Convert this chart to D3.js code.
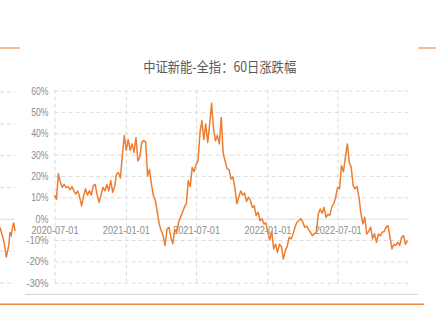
<!DOCTYPE html>
<html><head><meta charset="utf-8">
<script src="https://cdn.jsdelivr.net/npm/d3@7"></script>
<style>html,body{margin:0;padding:0;background:#fff;}svg{display:block;}</style>
</head><body>
<svg id="c" width="436" height="311"></svg>
<script>
// ---- data ----
const chartTitle = "中证新能-全指：60日涨跌幅";
const startDate = "2020-07-01";
const stepDays = 5;
const values = [
 11, 9, 21, 17, 14.7, 16, 14.5, 15, 13.5, 15,
 13, 11.5, 13, 10, 6, 10.5, 14, 11, 13, 11,
 15.4, 16, 11, 7.6, 11, 14.7, 13, 16, 13, 17.8,
 12.3, 15, 21, 21.5, 19, 30, 38.9, 32, 37, 32,
 35, 31, 38, 27, 29, 35.7, 36.5, 36, 20, 23,
 16, 10.8, 8.5, 3, -2.5, -5.6, -8, -12.6, -5, -4,
 -8.7, -11.8, -5, -6.5, -1.7, 0.6, 3, 5.5, 7, 17.8,
 15, 24, 22, 25.5, 27, 40, 45.9, 37, 44.3, 35.7,
 44, 54, 42, 36.5, 39, 35, 47.4, 30.3, 27, 23.3,
 23, 18.6, 19.5, 14.7, 7, 10, 13, 11, 12, 8,
 10, 8.5, 5.3, 6, 1.4, 3, -1, 0, -2.5, -2,
 -6.4, -10, -6, -14.2, -12, -15.8, -12, -13, -18.9, -15,
 -13, -8.7, -9.5, -7.2, -4, -1.7, -1, 0, -1.5, -4,
 -3.5, -5, -6.4, -8, -7, -6.5, 2, 4.5, 2.5, 5.3,
 0.6, 2, 1.5, 5.5, 6.9, 10, 14.7, 14, 24.8, 22,
 28.7, 35, 26.4, 24, 15.4, 14, 15, 10, 2.5, -2.5,
 0.6, -7.2, -6, -4, -9.5, -7, -11.1, -7.2, -8, -6.4,
 -6, -4, -3.3, -8.7, -14.2, -12, -12.5, -11, -12.6, -8.7,
 -8, -12, -10.3
];
const yTicks = [60, 50, 40, 30, 20, 10, 0, -10, -20, -30];
const xTickLabels = ["2020-07-01", "2021-01-01", "2021-07-01", "2022-01-01", "2022-07-01"];
const xDomain = ["2020-07-01", "2023-01-01"];
// fragment of a neighbouring chart visible at the left edge
const fragTicks = [40, 30, 20, 10, 0, -10, -20];
const fragValues = [-2.5, -4, -5.2, -6.8, -8.8, -12, -10, -8.3, -4, -5, -2.5, -1, -3.7];

// ---- layout ----
const svg = d3.select("#c");
const parse = d3.utcParse("%Y-%m-%d");
const L = 54.5, R = 409, T = 90.5, B = 282.7;
const lineColor = "#ED7D31";
const gridColor = "#dcdcdc";
const labelColor = "#8c8c8c";
const font = "'Liberation Sans', Arial, sans-serif";

const x = d3.scaleUtc().domain(xDomain.map(parse)).range([L, R]);
const y = d3.scaleLinear().domain([-30, 60]).range([B, T]);
const start = parse(startDate);
const data = values.map((v, i) => ({ d: d3.utcDay.offset(start, i * stepDays), v }));

// decorative slide lines
svg.append("line").attr("x1", 0).attr("x2", 20).attr("y1", 48).attr("y2", 48)
  .attr("stroke", lineColor).attr("stroke-width", 1);
svg.append("line").attr("x1", 418).attr("x2", 436).attr("y1", 48).attr("y2", 48)
  .attr("stroke", lineColor).attr("stroke-width", 1);
svg.append("line").attr("x1", 25).attr("x2", 418).attr("y1", 294.3).attr("y2", 294.3)
  .attr("stroke", "#d9d9d9").attr("stroke-width", 1.2);
svg.append("line").attr("x1", 0).attr("x2", 424).attr("y1", 304.3).attr("y2", 304.3)
  .attr("stroke", "#F0883A").attr("stroke-width", 1.5);

// left fragment
const fy = d3.scaleLinear().domain([-20, 40]).range([283, 92]);
const fx = d3.scaleLinear().domain([0, fragValues.length - 1]).range([0, 15]);
const fg = svg.append("g");
fg.selectAll("line").data(fragTicks).join("line")
  .attr("x1", 0).attr("x2", 15)
  .attr("y1", d => fy(d)).attr("y2", d => fy(d))
  .attr("stroke", gridColor).attr("stroke-width", 1)
  .attr("stroke-dasharray", d => d === 0 ? null : "4,3");
fg.append("path").datum(fragValues)
  .attr("d", d3.line().x((d, i) => fx(i)).y(d => fy(d)))
  .attr("fill", "none").attr("stroke", lineColor).attr("stroke-width", 1.5);

// title
svg.append("text").attr("x", 219.7).attr("y", 72).attr("text-anchor", "middle")
  .attr("font-family", "'Noto Sans CJK SC', sans-serif").attr("font-size", 14)
  .attr("fill", "#595959").attr("textLength", 153).attr("lengthAdjust", "spacingAndGlyphs")
  .text(chartTitle);

// y axis + horizontal grid
const yAxis = d3.axisLeft(y).tickValues(yTicks).tickSize(-(R - L)).tickPadding(6)
  .tickFormat(d => d + "%");
const gy = svg.append("g").attr("transform", `translate(${L},0)`).call(yAxis);
gy.select(".domain").remove();
gy.selectAll(".tick line").attr("stroke", gridColor).attr("stroke-width", 1)
  .attr("stroke-dasharray", d => d === 0 ? null : "4,3");
gy.selectAll(".tick text").attr("fill", labelColor).attr("font-family", font)
  .attr("font-size", 11)
  .attr("textLength", d => { const s = String(Math.abs(d)); return s.length * 4.35 + 8.6 + (d < 0 ? 5 : 0); })
  .attr("lengthAdjust", "spacingAndGlyphs");

// x axis + vertical grid
const xTicks = [parse(xDomain[0])].concat(xTickLabels.slice(1).map(parse));
const xAxis = d3.axisBottom(x).tickValues(xTickLabels.map(parse)).tickSize(-(B - T))
  .tickFormat(d3.utcFormat("%Y-%m-%d"));
const gx = svg.append("g").attr("transform", `translate(0,${B})`).call(xAxis);
gx.select(".domain").remove();
gx.selectAll(".tick line").attr("stroke", gridColor).attr("stroke-width", 1)
  .attr("stroke-dasharray", "4,3");
gx.selectAll(".tick text").attr("fill", labelColor).attr("font-family", font)
  .attr("font-size", 11).attr("dy", 0).attr("y", 234.3 - B)
  .attr("textLength", 47).attr("lengthAdjust", "spacingAndGlyphs");

// line
svg.append("path").datum(data)
  .attr("d", d3.line().x(d => x(d.d)).y(d => y(d.v)))
  .attr("fill", "none").attr("stroke", lineColor).attr("stroke-width", 1.5)
  .attr("stroke-linejoin", "round");
</script>
</body></html>
